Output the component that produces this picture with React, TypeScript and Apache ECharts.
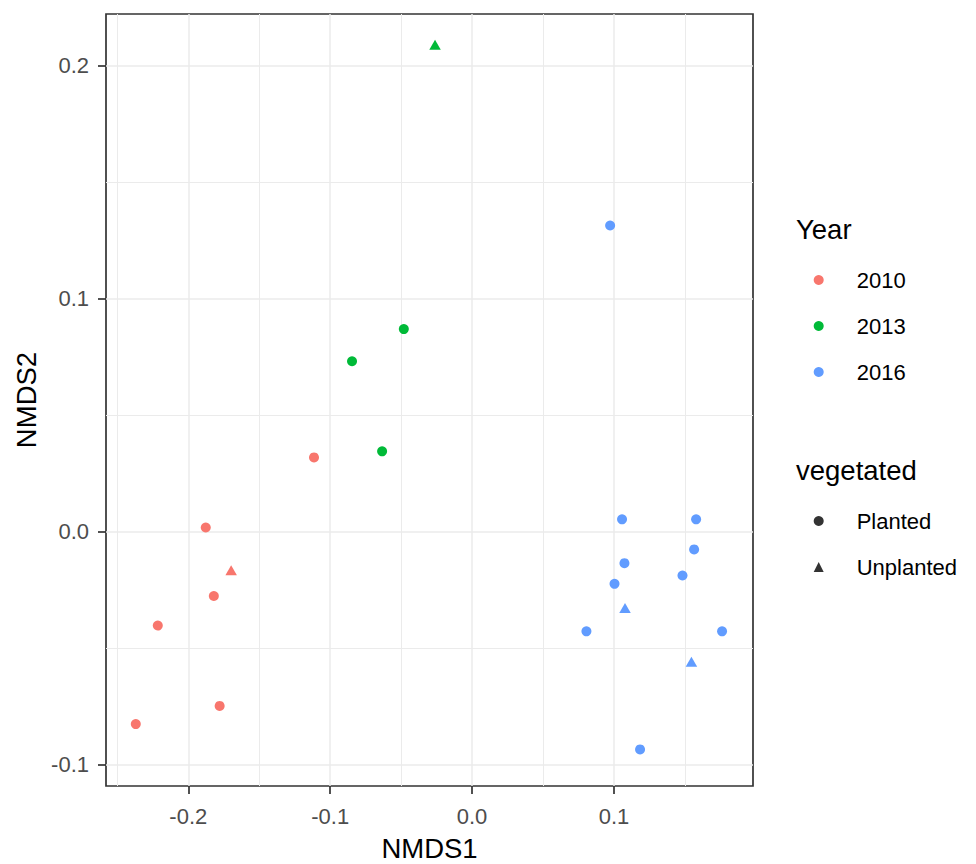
import React, { useEffect, useRef } from "react";
import * as echarts from "echarts";

// ---- data ----
const years = ["2010", "2013", "2016"];
const yearColors = ["#F8766D", "#00BA38", "#619CFF"];
const vegLevels = ["Planted", "Unplanted"];

const nmds1_2010 = [-0.1877, -0.1698, -0.182, -0.2215, -0.1779, -0.237, -0.1114];
const nmds2_2010 = [0.0017, -0.0173, -0.0277, -0.0404, -0.0749, -0.0827, 0.0318];
const veg_2010 = ["Planted", "Unplanted", "Planted", "Planted", "Planted", "Planted", "Planted"];

const nmds1_2013 = [-0.0261, -0.0481, -0.0846, -0.0634];
const nmds2_2013 = [0.2083, 0.0869, 0.0731, 0.0344];
const veg_2013 = ["Unplanted", "Planted", "Planted", "Planted"];

const nmds1_2016 = [0.0973, 0.1057, 0.1579, 0.1565, 0.1074, 0.1483, 0.1004, 0.1078, 0.0806, 0.1762, 0.1546, 0.1184];
const nmds2_2016 = [0.1314, 0.0052, 0.0052, -0.0077, -0.0136, -0.0189, -0.0225, -0.0335, -0.0429, -0.0429, -0.0566, -0.0936];
const veg_2016 = ["Planted", "Planted", "Planted", "Planted", "Planted", "Planted", "Planted", "Unplanted", "Planted", "Planted", "Unplanted", "Planted"];

const xTicks = [-0.2, -0.1, 0.0, 0.1];
const yTicks = [-0.1, 0.0, 0.1, 0.2];

const FONT = "'Liberation Sans', Arial, sans-serif";

function makeData(xs: number[], ys: number[], veg: string[]) {
  return xs.map((x, i) =>
    veg[i] === "Unplanted"
      ? { value: [x, ys[i]], symbol: "triangle", symbolSize: [11.5, 10], symbolOffset: [0, -1.5] }
      : { value: [x, ys[i]], symbol: "circle", symbolSize: 10 }
  );
}

export default function App() {
  const ref = useRef<HTMLDivElement>(null);
  useEffect(() => {
    if (!ref.current) return;
    const chart = echarts.init(ref.current, null, { renderer: "svg" });
    const yearData = [
      makeData(nmds1_2010, nmds2_2010, veg_2010),
      makeData(nmds1_2013, nmds2_2013, veg_2013),
      makeData(nmds1_2016, nmds2_2016, veg_2016),
    ];
    const axisCommon = {
      type: "value" as const,
      nameLocation: "middle" as const,
      nameTextStyle: { fontSize: 27.5, color: "#000000", fontFamily: FONT, lineHeight: 27.5 },
      minInterval: 0.1,
      maxInterval: 0.1,
      axisLine: { show: false, onZero: false },
      splitLine: { show: true, lineStyle: { color: "#EBEBEB", width: 1.5 } },
      minorTick: { show: false, splitNumber: 2 },
      minorSplitLine: { show: true, lineStyle: { color: "#EBEBEB", width: 1 } },
    };
    const option: any = {
      animation: false,
      backgroundColor: "#ffffff",
      grid: {
        left: 106,
        top: 14,
        width: 647,
        height: 772,
        show: true,
        borderColor: "#333333",
        borderWidth: 1.7,
        backgroundColor: "transparent",
        containLabel: false,
        outerBoundsMode: "none",
      },
      title: [
        {
          text: "Year",
          left: 796,
          top: 216,
          padding: 0,
          textStyle: { fontSize: 27.5, fontWeight: "normal", color: "#000000", fontFamily: FONT, lineHeight: 27.5 },
        },
        {
          text: "vegetated",
          left: 796,
          top: 457,
          padding: 0,
          textStyle: { fontSize: 27.5, fontWeight: "normal", color: "#000000", fontFamily: FONT, lineHeight: 27.5 },
        },
      ],
      legend: [
        {
          data: years.map((y) => ({ name: y, icon: "circle" })),
          orient: "vertical",
          left: 813.7,
          top: 269,
          itemWidth: 10,
          itemHeight: 10,
          itemGap: 24,
          padding: 0,
          selectedMode: false,
          textStyle: { fontSize: 22, lineHeight: 22, color: "#000000", fontFamily: FONT, padding: [0, 0, 0, 28] },
        },
        {
          data: [
            { name: vegLevels[0], icon: "circle" },
            { name: vegLevels[1], icon: "triangle" },
          ],
          orient: "vertical",
          left: 813.7,
          top: 510,
          itemWidth: 10,
          itemHeight: 10,
          itemGap: 24,
          padding: 0,
          selectedMode: false,
          textStyle: { fontSize: 22, lineHeight: 22, color: "#000000", fontFamily: FONT, padding: [0, 0, 0, 28] },
        },
      ],
      xAxis: {
        ...axisCommon,
        min: -0.258,
        max: 0.198,
        splitNumber: 5,
        name: "NMDS1",
        nameGap: 49,
        axisTick: { show: true, length: 8, lineStyle: { color: "#333333", width: 1.7 }, customValues: xTicks },
        axisLabel: {
          customValues: xTicks,
          formatter: (v: number) => v.toFixed(1),
          fontSize: 22,
          color: "#4D4D4D",
          margin: 19,
          fontFamily: FONT,
        },
      },
      yAxis: {
        ...axisCommon,
        min: -0.1093,
        max: 0.2222,
        splitNumber: 4,
        name: "NMDS2",
        nameGap: 63,
        axisTick: { show: true, length: 8, lineStyle: { color: "#333333", width: 1.7 }, customValues: yTicks },
        axisLabel: {
          customValues: yTicks,
          formatter: (v: number) => v.toFixed(1),
          fontSize: 22,
          color: "#4D4D4D",
          margin: 17,
          fontFamily: FONT,
        },
      },
      series: [
        ...years.map((y, i) => ({
          type: "scatter",
          name: y,
          data: yearData[i],
          itemStyle: { color: yearColors[i], opacity: 1 },
          emphasis: { disabled: true },
        })),
        {
          type: "scatter",
          name: vegLevels[0],
          data: [],
          symbol: "circle",
          itemStyle: { color: "#000000" },
        },
        {
          type: "scatter",
          name: vegLevels[1],
          data: [],
          symbol: "triangle",
          itemStyle: { color: "#000000" },
        },
      ],
    };
    chart.setOption(option);
    return () => chart.dispose();
  }, []);
  return (
    <div
      ref={ref}
      style={{ position: "fixed", left: 0, top: 0, width: 976, height: 864, background: "#fff" }}
    />
  );
}
